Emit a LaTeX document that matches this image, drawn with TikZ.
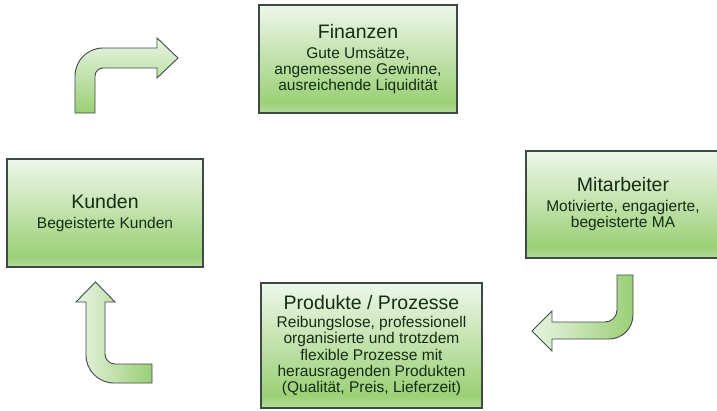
\documentclass[tikz,border=0pt]{standalone}
\usepackage{fontspec}
\setmainfont{Liberation Sans}
\definecolor{boxtop}{HTML}{EEF7EB}
\definecolor{boxmid}{HTML}{9CD076}
\definecolor{boxbot}{HTML}{B4DC9C}
\definecolor{boxline}{HTML}{3F4A48}
\definecolor{inktext}{HTML}{142D14}
\definecolor{arrowlight}{HTML}{E8F4E2}
\definecolor{arrowgreen}{HTML}{9BCF77}
\pgfdeclareverticalshading{boxshade}{100bp}{color(0bp)=(boxbot); color(25bp)=(boxbot); color(30bp)=(boxmid); color(75bp)=(boxtop); color(100bp)=(boxtop)}
\newcommand{\boxhead}[1]{{\fontsize{19.5}{20}\selectfont #1}}

\begin{document}
\begin{tikzpicture}[
    x=1pt, y=-1pt,
    box/.style={draw=boxline, line width=1.2pt, shading=boxshade, shade, align=center, inner sep=0pt, text=inktext,
        font=\fontsize{15.5}{16.3}\selectfont},
    bentarrow/.style={draw=boxline, line width=0.9pt, line join=miter}
]
\useasboundingbox[fill=white] (0,0) rectangle (717,410);

\node[box, minimum width=198pt, minimum height=108pt] (finanzen) at (358,59)
    {\boxhead{Finanzen}\\[3.4pt] Gute Umsätze,\\ angemessene Gewinne,\\ ausreichende Liquidität};
\node[box, minimum width=196pt, minimum height=108pt] (kunden) at (105,213)
    {\boxhead{Kunden}\\[3.4pt] Begeisterte Kunden};
\node[box, minimum width=194pt, minimum height=107pt] (mitarbeiter) at (623,204.5)
    {\boxhead{Mitarbeiter}\\[3.4pt] Motivierte, engagierte,\\ begeisterte MA};
\node[box, minimum width=221pt, minimum height=125pt] (produkte) at (371.5,345.5)
    {\boxhead{Produkte / Prozesse}\\[2pt] Reibungslose, professionell\\ organisierte und trotzdem\\ flexible Prozesse mit\\ herausragenden Produkten\\ (Qualität, Preis, Lieferzeit)};

% Kunden -> Finanzen
\draw[bentarrow, top color=arrowlight, bottom color=arrowgreen]
    (75,113) -- (75,76) .. controls (75,60.5) and (87.5,48) .. (103,48) -- (157,48) -- (157,38)
    -- (178,58) -- (157,78) -- (157,68) -- (103,68) .. controls (98.6,68) and (95,71.6) .. (95,76)
    -- (95,113) -- cycle;
% Mitarbeiter -> Produkte
\draw[bentarrow, left color=arrowlight, right color=arrowgreen]
    (617,275) -- (633,275) -- (633,315) .. controls (633,328.3) and (622.3,339) .. (609,339)
    -- (552,339) -- (552,351) -- (532,331) -- (552,311) -- (552,322) -- (605,322)
    .. controls (611.6,322) and (617,316.6) .. (617,310) -- cycle;
% Produkte -> Kunden
\draw[bentarrow, left color=arrowlight, right color=arrowgreen]
    (95.5,282) -- (115,302) -- (105,302) -- (105,354) .. controls (105,359.5) and (109.5,364) .. (115,364)
    -- (152,364) -- (152,383) -- (114,383) .. controls (98.5,383) and (86,370.5) .. (86,355)
    -- (86,302) -- (76,302) -- cycle;
\end{tikzpicture}
\end{document}
